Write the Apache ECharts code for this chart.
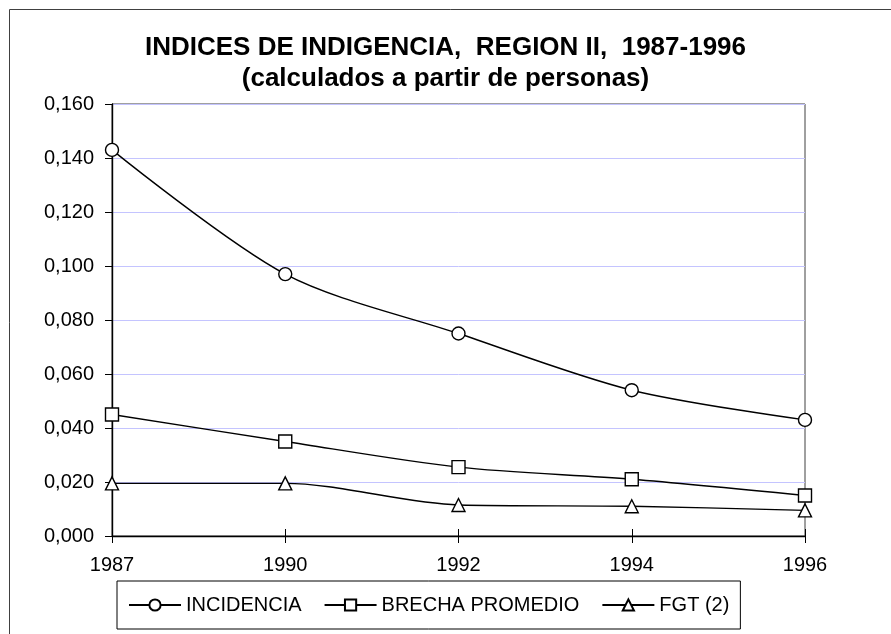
<!DOCTYPE html>
<html>
<head>
<meta charset="utf-8">
<script src="https://cdn.jsdelivr.net/npm/echarts@6/dist/echarts.min.js"></script>
<style>
html,body{margin:0;padding:0;background:#fff;}
#main{width:891px;height:634px;}
</style>
</head>
<body>
<div id="main"></div>
<script>
var years = ['1987', '1990', '1992', '1994', '1996'];
var incidencia = [0.143, 0.097, 0.075, 0.054, 0.043];
var brecha = [0.045, 0.035, 0.0255, 0.021, 0.015];
var fgt = [0.0195, 0.0195, 0.0115, 0.011, 0.0095];
var seriesNames = ['INCIDENCIA', 'BRECHA PROMEDIO', 'FGT (2)'];

var font = 'Liberation Sans, Arial, sans-serif';
var chart = echarts.init(document.getElementById('main'));

function mk(name, data, symbol) {
  return {
    name: name,
    type: 'line',
    data: data,
    smooth: 0.3,
    symbol: symbol,
    symbolSize: 13,
    showSymbol: true,
    lineStyle: {color: '#000', width: 1.4},
    itemStyle: {color: '#fff', borderColor: '#000', borderWidth: 1.4},
    emphasis: {disabled: true},
    animation: false
  };
}

chart.setOption({
  animation: false,
  backgroundColor: '#fff',
  title: {
    text: 'INDICES DE INDIGENCIA,  REGION II,  1987-1996\n(calculados a partir de personas)',
    left: 'center',
    top: 32,
    padding: 0,
    textStyle: {fontFamily: font, fontSize: 26, fontWeight: 'bold', color: '#000', lineHeight: 31}
  },
  graphic: [{
    type: 'rect',
    shape: {x: 9.5, y: 9.5, width: 1000, height: 1000},
    style: {fill: 'none', stroke: '#404040', lineWidth: 1},
    silent: true
  }],
  legend: {
    data: seriesNames,
    left: 117,
    top: 581,
    padding: [14, 11, 14, 11],
    borderColor: '#000',
    borderWidth: 1,
    itemWidth: 52,
    itemHeight: 14,
    itemGap: 22,
    textStyle: {fontFamily: font, fontSize: 20, color: '#000'}
  },
  grid: {
    left: 112, right: 86, top: 104, bottom: 98,
    show: true, borderColor: '#404040', borderWidth: 1, backgroundColor: 'transparent'
  },
  xAxis: [{
    type: 'category',
    data: years,
    boundaryGap: false,
    axisLine: {lineStyle: {color: '#000', width: 1.4}},
    axisTick: {show: true, length: 7, lineStyle: {color: '#000'}},
    axisLabel: {fontFamily: font, fontSize: 20, color: '#000', margin: 19},
    splitLine: {show: false}
  }, {
    type: 'category',
    data: years,
    boundaryGap: false,
    position: 'bottom',
    axisLine: {show: false},
    axisTick: {show: true, inside: true, length: 7, lineStyle: {color: '#000'}},
    axisLabel: {show: false},
    splitLine: {show: false}
  }],
  yAxis: {
    type: 'value',
    min: 0,
    max: 0.16,
    interval: 0.02,
    axisLine: {show: true, lineStyle: {color: '#000', width: 1.4}},
    axisTick: {show: true, length: 7, lineStyle: {color: '#000'}},
    axisLabel: {
      fontFamily: font, fontSize: 20, color: '#000', margin: 18,
      formatter: function (v) { return v.toFixed(3).replace('.', ','); }
    },
    splitLine: {show: true, lineStyle: {color: '#c4c4ff', width: 1}}
  },
  series: [
    mk(seriesNames[0], incidencia, 'circle'),
    mk(seriesNames[1], brecha, 'rect'),
    mk(seriesNames[2], fgt, 'triangle')
  ]
});
</script>
</body>
</html>
